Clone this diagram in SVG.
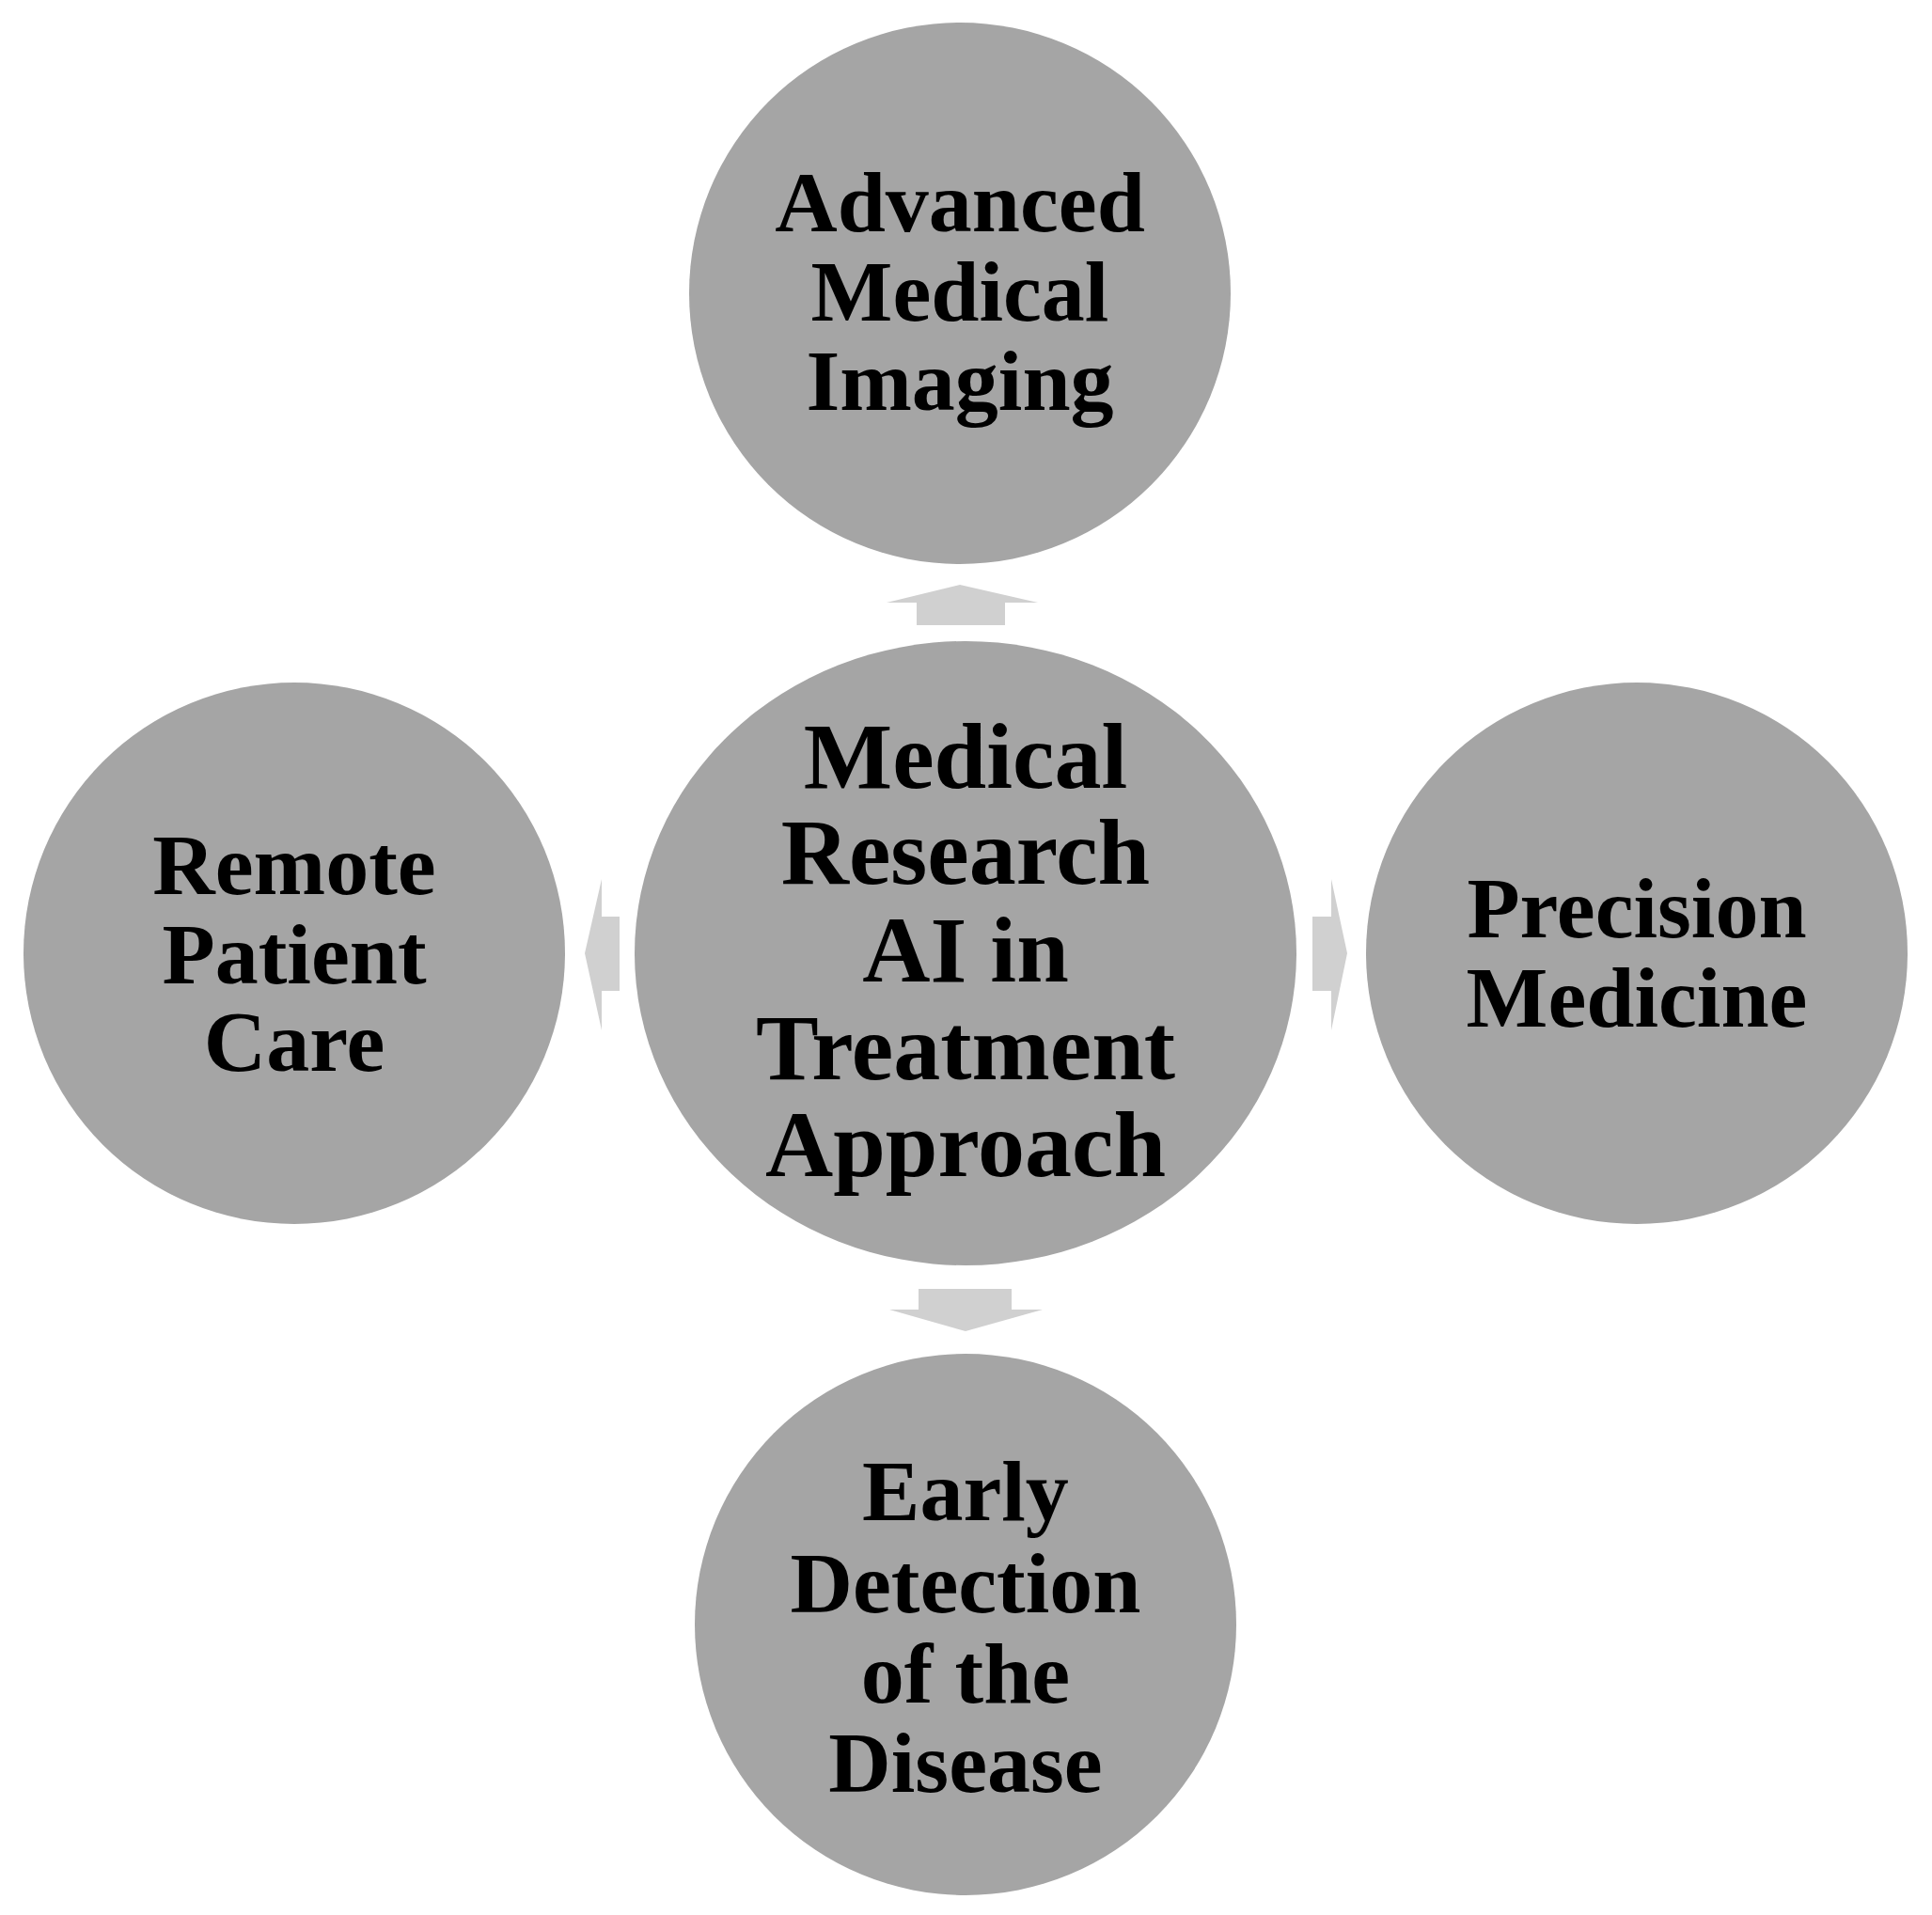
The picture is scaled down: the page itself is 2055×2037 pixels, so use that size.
<svg xmlns="http://www.w3.org/2000/svg" width="2055" height="2037" viewBox="0 0 2055 2037">
<style>
.n{fill:#a5a5a5}
.a{fill:#d0d0d0}
text{font-family:"Liberation Serif","Times New Roman",serif;font-weight:bold;fill:#000;text-anchor:middle}
.s{font-size:92px}
.c{font-size:100px}
</style>
<rect width="2055" height="2037" fill="#fff"/>
<g id="connectors">
<polygon class="a" points="975,665 975,641 943,641 1021,622 1104,641 1069,641 1069,665"/>
<polygon class="a" points="977,1371 1076,1371 1076,1393 1109,1393 1027,1416 946,1393 977,1393"/>
<polygon class="a" points="1396,975 1416,975 1416,935 1433,1014 1416,1096 1416,1054 1396,1054"/>
<polygon class="a" points="659,975 640,975 640,935 622,1014 640,1096 640,1054 659,1054"/>
</g>
<g id="center"><ellipse class="n" cx="1027" cy="1014" rx="352" ry="332"/>
<text class="c"><tspan x="1027" y="838">Medical</tspan><tspan x="1027" y="940">Research</tspan><tspan x="1027" y="1044">AI in</tspan><tspan x="1027" y="1148">Treatment</tspan><tspan x="1027" y="1251">Approach</tspan></text></g>
<g id="top"><circle class="n" cx="1021" cy="312" r="288"/>
<text class="s"><tspan x="1021" y="246">Advanced</tspan><tspan x="1021" y="341">Medical</tspan><tspan x="1021" y="436">Imaging</tspan></text></g>
<g id="left"><circle class="n" cx="313" cy="1014" r="288"/>
<text class="s"><tspan x="313" y="951">Remote</tspan><tspan x="313" y="1046">Patient</tspan><tspan x="313" y="1139">Care</tspan></text></g>
<g id="right"><circle class="n" cx="1741" cy="1014" r="288"/>
<text class="s"><tspan x="1741" y="997">Precision</tspan><tspan x="1741" y="1092">Medicine</tspan></text></g>
<g id="bottom"><circle class="n" cx="1027" cy="1728" r="288"/>
<text class="s"><tspan x="1027" y="1617">Early</tspan><tspan x="1027" y="1715">Detection</tspan><tspan x="1027" y="1811">of the</tspan><tspan x="1027" y="1906">Disease</tspan></text></g>
</svg>
